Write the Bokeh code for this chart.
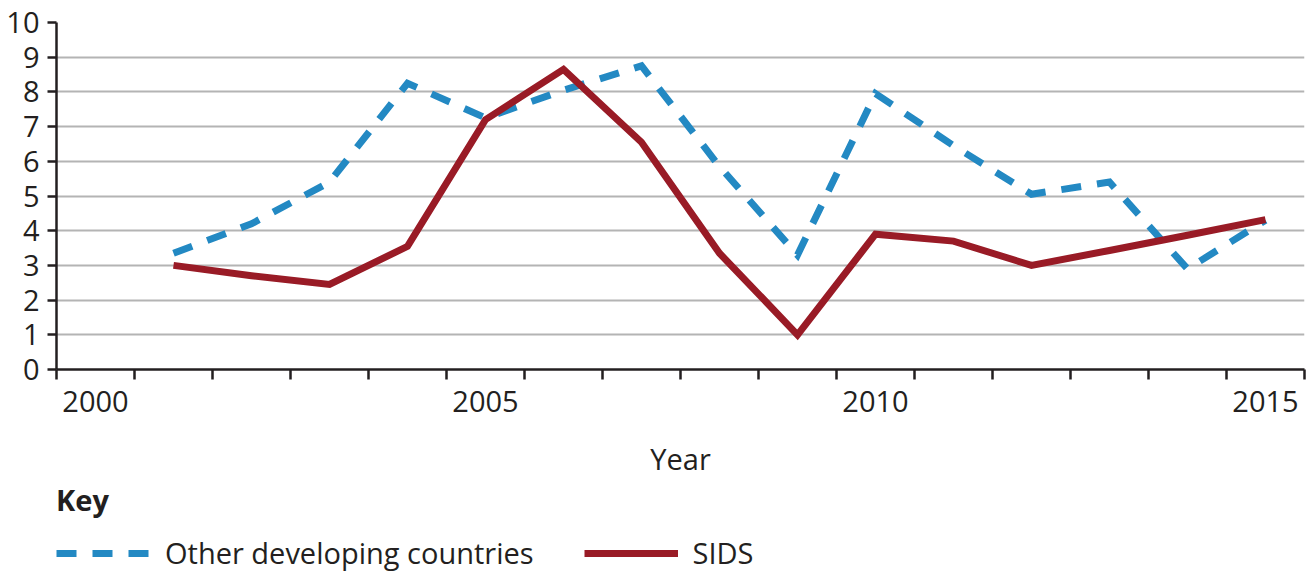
from bokeh.plotting import figure
from bokeh.layouts import column
from bokeh.models import FixedTicker, Legend, LegendItem, Range1d, ColumnDataSource
from bokeh.embed import file_html
from bokeh.resources import INLINE

# ---- data ----
years = [2001, 2002, 2003, 2004, 2005, 2006, 2007, 2008, 2009, 2010, 2011, 2012, 2013, 2014, 2015]
other_developing = [3.35, 4.2, 5.4, 8.25, 7.25, 8.05, 8.75, 5.85, 3.3, 7.95, 6.45, 5.05, 5.4, 2.9, 4.3]
sids = [3.0, 2.7, 2.45, 3.55, 7.2, 8.65, 6.55, 3.35, 1.0, 3.9, 3.7, 3.0, 3.43, 3.87, 4.32]
x_label_years = [2000, 2005, 2010, 2015]
all_years = list(range(2000, 2016))
y_ticks = list(range(0, 11))
series_names = ["Other developing countries", "SIDS"]

TEXT = "#231f20"
FONT = "Open Sans"
BLUE = "#2389c3"
RED = "#991b26"
OTHER_STYLE = dict(line_color=BLUE, line_width=7, line_dash="20 16", line_join="miter")
SIDS_STYLE = dict(line_color=RED, line_width=7, line_join="miter")

src = ColumnDataSource(dict(year=years, other=other_developing, sids=sids))

p = figure(width=1308, height=480,
           x_range=Range1d(all_years[0] - 0.5, all_years[-1] + 0.5),
           y_range=Range1d(0, 10),
           output_backend="svg", toolbar_location=None,
           min_border_left=56, min_border_right=4, min_border_top=22, min_border_bottom=111)

p.outline_line_color = None
p.background_fill_color = "white"
p.xgrid.visible = False
p.ygrid.grid_line_color = "#b4b4b4"
p.ygrid.grid_line_width = 2

# x axis: labels at year centres, tick marks at year boundaries
p.xaxis.ticker = FixedTicker(ticks=x_label_years,
                             minor_ticks=[y - 0.5 for y in all_years + [all_years[-1] + 1]])
p.xaxis.major_tick_out = 0
p.xaxis.major_tick_in = 0
p.xaxis.minor_tick_out = 10
p.xaxis.minor_tick_in = 0
p.xaxis.minor_tick_line_width = 2.5
p.xaxis.minor_tick_line_color = TEXT
p.xaxis.axis_line_width = 2.5
p.xaxis.axis_line_color = TEXT
p.xaxis.major_label_standoff = 11
p.xaxis.axis_label = "Year"
p.xaxis.axis_label_standoff = 24
p.xaxis.axis_label_text_font_style = "normal"

p.yaxis.ticker = FixedTicker(ticks=y_ticks)
p.yaxis.major_tick_out = 9
p.yaxis.major_tick_in = 0
p.yaxis.minor_tick_out = 0
p.yaxis.minor_tick_in = 0
p.yaxis.major_tick_line_width = 2.5
p.yaxis.major_tick_line_color = TEXT
p.yaxis.axis_line_width = 2.5
p.yaxis.axis_line_color = TEXT
p.yaxis.major_label_standoff = 8

for ax in (p.xaxis, p.yaxis):
    ax.major_label_text_font = FONT
    ax.major_label_text_font_size = "29px"
    ax.major_label_text_color = TEXT
    ax.axis_label_text_font = FONT
    ax.axis_label_text_font_size = "29px"
    ax.axis_label_text_color = TEXT

p.line("year", "other", source=src, **OTHER_STYLE)
p.line("year", "sids", source=src, **SIDS_STYLE)

# ---- key (legend) below the chart ----
# the key figure re-uses the same series, but its ranges keep them out of view,
# so only the legend is visible
k = figure(width=1308, height=92, x_range=Range1d(0, 1), y_range=Range1d(0, 1),
           output_backend="svg", toolbar_location=None,
           x_axis_location=None, y_axis_location=None,
           min_border_left=48, min_border_right=0, min_border_top=0, min_border_bottom=0)
k.outline_line_color = None
k.grid.visible = False
k_other = k.line("year", "other", source=src, **OTHER_STYLE)
k_sids = k.line("year", "sids", source=src, **SIDS_STYLE)

legend = Legend(items=[LegendItem(label=series_names[0], renderers=[k_other]),
                       LegendItem(label=series_names[1], renderers=[k_sids])],
                orientation="horizontal", location="top_left",
                title="Key", title_text_font=FONT, title_text_font_size="29px",
                title_text_font_style="bold", title_text_color=TEXT,
                title_standoff=14,
                label_text_font=FONT, label_text_font_size="29px", label_text_color=TEXT,
                glyph_width=94, glyph_height=20, label_standoff=15, spacing=50,
                margin=0, padding=0, border_line_color=None, background_fill_alpha=0)
k.add_layout(legend)

layout = column(p, k, spacing=0)
open("out.html", "w").write(file_html(layout, INLINE))
